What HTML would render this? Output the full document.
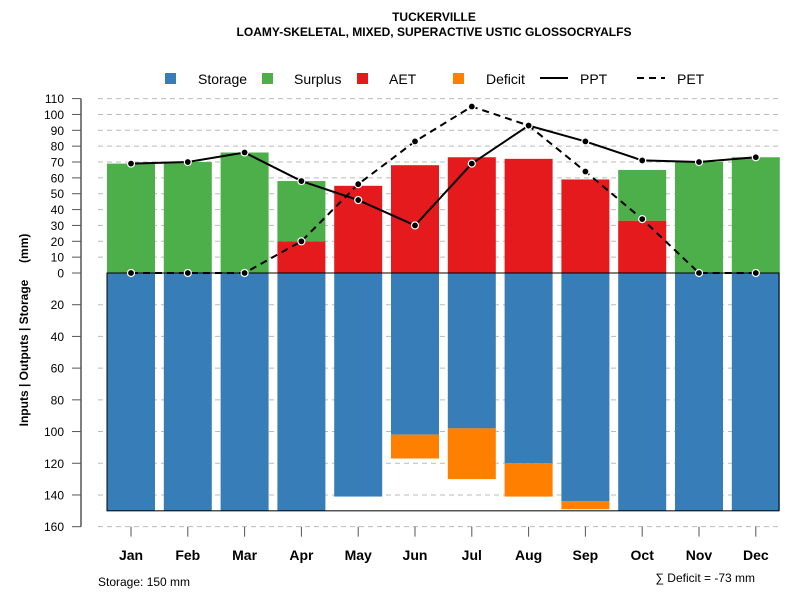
<!DOCTYPE html>
<html><head><meta charset="utf-8"><style>
body{margin:0;background:#fff;font-family:"Liberation Sans",sans-serif}
svg{display:block}
</style></head><body>
<svg id="c" width="800" height="600" xmlns="http://www.w3.org/2000/svg">
<text x="434" y="21" font-size="12" font-weight="bold" text-anchor="middle">TUCKERVILLE</text>
<text x="434" y="36" font-size="12" font-weight="bold" text-anchor="middle">LOAMY-SKELETAL, MIXED, SUPERACTIVE USTIC GLOSSOCRYALFS</text>
<g id="legend">
<rect x="165" y="73" width="11" height="11" fill="#377eb8"/>
<text x="198" y="84" font-size="14">Storage</text>
<rect x="262" y="73" width="11" height="11" fill="#4daf4a"/>
<text x="294" y="84" font-size="14">Surplus</text>
<rect x="357" y="73" width="11" height="11" fill="#e41a1c"/>
<text x="389" y="84" font-size="14">AET</text>
<rect x="453" y="73" width="11" height="11" fill="#ff7f00"/>
<text x="486" y="84" font-size="14">Deficit</text>
<line x1="540" y1="78" x2="568" y2="78" stroke="#000" stroke-width="2"/>
<text x="580" y="84" font-size="14">PPT</text>
<line x1="637" y1="78" x2="665" y2="78" stroke="#000" stroke-width="2" stroke-dasharray="7,5"/>
<text x="677" y="84" font-size="14">PET</text>
</g>
<text transform="translate(28,330) rotate(-90)" font-size="12" font-weight="bold" text-anchor="middle">Inputs | Outputs | Storage&#160;&#160;&#160;&#160;&#160;(mm)</text>
<text x="98" y="586" font-size="12">Storage: 150 mm</text>
<text x="755" y="582" font-size="12" text-anchor="end">∑ Deficit = -73 mm</text>
</svg>
<script>
const months=["Jan","Feb","Mar","Apr","May","Jun","Jul","Aug","Sep","Oct","Nov","Dec"];
const surplus=[69,70,76,38,0,0,0,0,0,32,70,73];
const aet=[0,0,0,20,55,68,73,72,59,33,0,0];
const storage=[150,150,150,150,141,102,98,120,144,150,150,150];
const deficit=[0,0,0,0,0,15,32,21,5,0,0,0];
const ppt=[69,70,76,58,46,30,69,93,83,71,70,73];
const pet=[0,0,0,20,56,83,105,93,64,34,0,0];
const upTicks=[0,10,20,30,40,50,60,70,80,90,100,110];
const downTicks=[20,40,60,80,100,120,140,160];
const svg=document.getElementById('c');const NS="http://www.w3.org/2000/svg";
const y0=273,k=1.5855;
const yUp=v=>y0-v*k, yDn=v=>y0+v*k;
const xc=i=>131+i*56.8, bw=48;
function mk(t,a){const e=document.createElementNS(NS,t);for(const n in a)e.setAttribute(n,a[n]);svg.appendChild(e);return e;}
upTicks.forEach(v=>{const y=yUp(v);
 if(v>0){const g=mk('line',{x1:98,x2:780,y1:y,y2:y,stroke:'#bbb','stroke-dasharray':'5,4'});
 
 }
 const t=mk('line',{x1:72,x2:81,y1:y,y2:y,stroke:'#555'});
 
 
 const l=mk('text',{x:64,y:y+4.5,'font-size':12,'text-anchor':'end'});l.textContent=v;
 
 });
downTicks.forEach(v=>{const y=yDn(v);
 const g=mk('line',{x1:98,x2:780,y1:y,y2:y,stroke:'#bbb','stroke-dasharray':'5,4'});
 
 
 const t=mk('line',{x1:72,x2:81,y1:y,y2:y,stroke:'#555'});
 
 
 const l=mk('text',{x:64,y:y+4.5,'font-size':12,'text-anchor':'end'});l.textContent=v;
 
 });
const ax=mk('line',{x1:81,x2:81,y1:yUp(110),y2:yDn(160),stroke:'#555','stroke-width':1.5});


months.forEach((m,i)=>{const x=xc(i)-bw/2;
 if(storage[i]>0){const r=mk('rect',{x:x,y:y0,width:bw,height:storage[i]*k,fill:'#377eb8'});
  
  }
 if(deficit[i]>0){const r=mk('rect',{x:x,y:yDn(storage[i]),width:bw,height:deficit[i]*k,fill:'#ff7f00'});
  
  }
 if(aet[i]>0){const r=mk('rect',{x:x,y:yUp(aet[i]),width:bw,height:aet[i]*k,fill:'#e41a1c'});
  
  }
 if(surplus[i]>0){const r=mk('rect',{x:x,y:yUp(aet[i]+surplus[i]),width:bw,height:surplus[i]*k,fill:'#4daf4a'});
  
  }
 const t=mk('line',{x1:xc(i),x2:xc(i),y1:yDn(160),y2:yDn(160)+10,stroke:'#555'});
 
 
 const l=mk('text',{x:xc(i),y:560,'font-size':14,'font-weight':'bold','text-anchor':'middle'});l.textContent=m;
 
 
});
const box=mk('rect',{x:107,y:y0,width:672,height:150*k,fill:'none',stroke:'#000','stroke-width':1});


function series(arr,dash,name){
 const p=mk('polyline',{points:arr.map((v,i)=>xc(i)+','+yUp(v)).join(' '),fill:'none',stroke:'#000','stroke-width':2,'stroke-dasharray':dash});
 
 
 arr.forEach((v,i)=>{const c=mk('circle',{cx:xc(i),cy:yUp(v),r:3.5,fill:'#000',stroke:'#fff','stroke-width':1.2});
  
  });
}
series(pet,'7,5','pet');
series(ppt,'none','ppt');
</script>
</body></html>
